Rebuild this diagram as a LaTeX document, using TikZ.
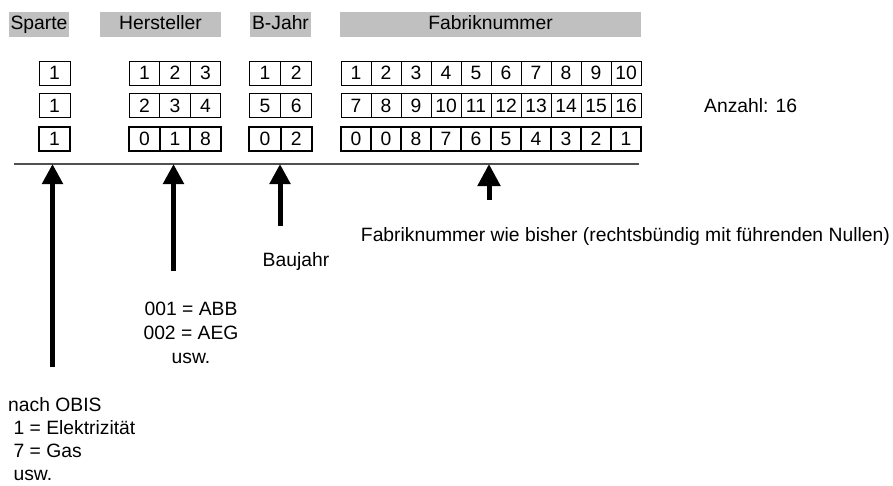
\documentclass[tikz,border=0pt]{standalone}
\usepackage{fontspec}
\setmainfont{Liberation Sans}
\usetikzlibrary{arrows.meta}
\definecolor{hdrgray}{HTML}{C0C0C0}
\definecolor{linegray}{HTML}{505050}
\begin{document}
\begin{tikzpicture}[x=1pt,y=-1pt,
  txt/.style={font=\fontsize{19.3}{24}\selectfont, inner sep=0pt},
  hdr/.style={txt, fill=hdrgray, minimum height=25pt, text height=13.8pt, text depth=4pt},
  cell/.style={txt, draw=black, line width=1pt, minimum height=24pt, minimum width=30.5pt},
  thick cell/.style={cell, line width=2pt},
  bigarrow/.style={line width=5pt, -{Triangle[width=20pt,length=20pt]}},
  sepline/.style={draw=linegray, line width=1.5pt}
]
\useasboundingbox (0,0) rectangle (893,485);
% headers
\node[hdr, minimum width=60pt] (hs) at (39,24.5) {Sparte};
\node[hdr, minimum width=121pt] (hh) at (160.5,24.5) {Hersteller};
\node[hdr, minimum width=61pt] (hb) at (280.5,24.5) {B-Jahr};
\node[hdr, minimum width=301pt] (hf) at (490.5,24.5) {Fabriknummer};
% Sparte
\node[cell, minimum width=31pt] (s1) at (54.5,73) {1};
\node[cell, minimum width=31pt] (s2) at (54.5,105.5) {1};
\node[thick cell, minimum width=31pt] (s3) at (54.5,139) {1};
% Hersteller
\foreach \v [count=\i] in {1,2,3}
  \node[cell] (ha\i) at ({144.5+30.5*(\i-1)},73) {\v};
\foreach \v [count=\i] in {2,3,4}
  \node[cell] (hb\i) at ({144.5+30.5*(\i-1)},105.5) {\v};
\foreach \v [count=\i] in {0,1,8}
  \node[thick cell] (hc\i) at ({144.5+30.5*(\i-1)},139) {\v};
% B-Jahr
\foreach \v [count=\i] in {1,2}
  \node[cell, minimum width=31.2pt] (ba\i) at ({265+31.2*(\i-1)},73) {\v};
\foreach \v [count=\i] in {5,6}
  \node[cell, minimum width=31.2pt] (bb\i) at ({265+31.2*(\i-1)},105.5) {\v};
\foreach \v [count=\i] in {0,2}
  \node[thick cell, minimum width=31.2pt] (bc\i) at ({265+31.2*(\i-1)},139) {\v};
% Fabriknummer
\foreach \v [count=\i] in {1,2,3,4,5,6,7,8,9,10}
  \node[cell, minimum width=30pt] (fa\i) at ({356+30*(\i-1)},73) {\v};
\foreach \v [count=\i] in {7,8,9,10,11,12,13,14,15,16}
  \node[cell, minimum width=30pt] (fb\i) at ({356+30*(\i-1)},105.5) {\v};
\foreach \v [count=\i] in {0,0,8,7,6,5,4,3,2,1}
  \node[thick cell, minimum width=30pt] (fc\i) at ({356+30*(\i-1)},139) {\v};
% Anzahl
\node[txt, anchor=west] (anz) at (704,105.5) {Anzahl: 16};
% separator line
\coordinate (l1) at (14,164);
\coordinate (l2) at (639,164);
\draw[sepline] (l1) -- (l2);
% arrows
\coordinate (as0) at (52.5,367);  \coordinate (as1) at (52.5,164);
\coordinate (ah0) at (173.5,271); \coordinate (ah1) at (173.5,164);
\coordinate (ab0) at (280,226);   \coordinate (ab1) at (280,164);
\coordinate (af0) at (489,200);   \coordinate (af1) at (489,164);
\draw[bigarrow] (as0) -- (as1);
\draw[bigarrow] (ah0) -- (ah1);
\draw[bigarrow] (ab0) -- (ab1);
\draw[line width=5pt, -{Triangle[width=22pt,length=22pt]}] (af0) -- (af1);
% labels
\node[txt, anchor=east] (fabt) at (890,237) {Fabriknummer wie bisher (rechtsbündig mit führenden Nullen)};
\node[txt] (baut) at (296,262) {Baujahr};
\node[txt, align=center] (hert) at (191,333) {001 = ABB\\002 = AEG\\usw.};
\node[txt, align=left, anchor=north west, font=\fontsize{19.3}{23}\selectfont] (obis) at (8,397) {nach OBIS\\~1 = Elektrizität\\~7 = Gas\\~usw.};
\end{tikzpicture}
\end{document}
